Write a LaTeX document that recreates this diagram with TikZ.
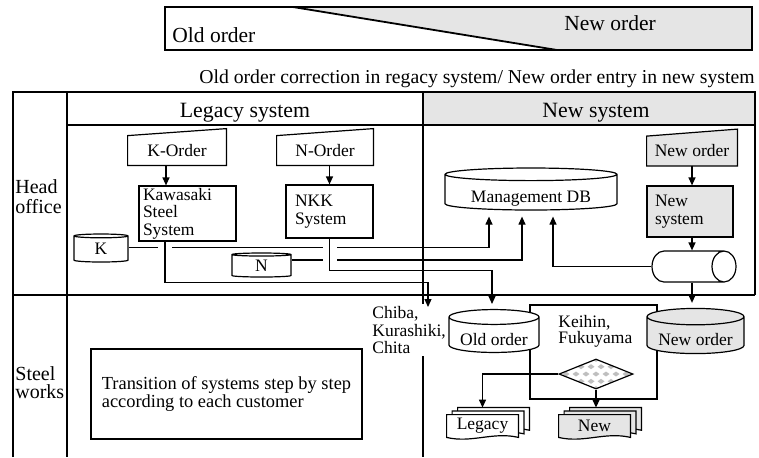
\documentclass[tikz,border=0pt]{standalone}
\usepackage{fontspec}
\setmainfont{Liberation Serif}
\usepackage{tikz}
\usetikzlibrary{shapes.geometric}
\usetikzlibrary{arrows.meta}
\usetikzlibrary{backgrounds}
\usetikzlibrary{calc}
\tikzstyle{lane}=[line width=0.9pt]
\tikzstyle{sysbox}=[draw, line width=0.6pt, inner sep=0pt]
\tikzstyle{inbox}=[inner sep=0pt, minimum height=14.5pt]
\tikzstyle{dbase}=[cylinder, shape border rotate=90, draw, line width=0.6pt, fill=white, inner sep=0pt, anchor=shape center]
\tikzstyle{link}=[line width=0.6pt]
\tikzstyle{flow}=[line width=0.6pt, -{Triangle[length=4pt,width=3.5pt]}]
\tikzstyle{hop}=[draw=white, line width=7pt]
\tikzstyle{doc}=[inner sep=0pt, minimum width=35.5pt, minimum height=11pt]

\begin{document}
\begin{tikzpicture}[x=0.5pt, y=-0.5pt, font=\fontsize{8.75}{8.8}\selectfont]
  \useasboundingbox (0,0) rectangle (759,457);
  % Banda superior
  \fill[gray!20] (293,7) -- (752,7) -- (752,50) -- (557,50) -- cycle;
  \draw[lane] (165,7) rectangle (752,50);
  \draw[lane] (293,7) -- (557,50);
  \node[anchor=base west, inner sep=0pt, font=\fontsize{10.75}{11}\selectfont] (oldtag) at (172,42) {Old order};
  \node[anchor=base west, inner sep=0pt, font=\fontsize{10.75}{11}\selectfont] (newtag) at (564,30) {New order};
  \node[anchor=base east, inner sep=0pt, font=\fontsize{9.85}{10}\selectfont] (note) at (755,83) {Old order correction in regacy system/ New order entry in new system};

  % Tabla
  \fill[gray!20] (423,92) rectangle (755,125);
  \draw[lane] (13,457) -- (13,92) -- (755,92) -- (755,295);
  \draw[lane] (67,92) -- (67,457);
  \draw[lane] (423,92) -- (423,457);
  \draw[lane] (67,125) -- (755,125);
  \draw[lane] (13,295) -- (755,295);
  \node[anchor=base, inner sep=0pt, font=\fontsize{10.9}{11}\selectfont] (legacy) at (245,117) {Legacy system};
  \node[anchor=base, inner sep=0pt, font=\fontsize{10.9}{11}\selectfont] (newsys) at (596,117) {New system};
  \node[anchor=west, align=left, inner sep=1pt, font=\fontsize{10}{10}\selectfont] (head) at (13,197) {Head\\office};
  \node[anchor=west, align=left, inner sep=1pt, font=\fontsize{10}{9}\selectfont] (works) at (13,383) {Steel\\works};

  % Oficina central
  \node[inbox, minimum width=49pt] (kord) at (177,150.5) {K-Order};
  \node[inbox, minimum width=48pt] (nord) at (325,150.5) {N-Order};
  \node[inbox, minimum width=45pt] (nwo) at (692,151) {New order};
  \node[sysbox, minimum width=48.5pt, minimum height=27.5pt, text width=44.5pt, align=left] (kws) at (187.5,213.5) {Kawasaki\\Steel\\System};
  \node[sysbox, minimum width=43.5pt, minimum height=26.5pt, text width=34.5pt, align=left] (nkk) at (329.5,211.5) {NKK\\System};
  \node[sysbox, fill=gray!20, minimum width=43pt, minimum height=25.5pt, text width=35pt, align=left] (nsys) at (690,211.5) {New\\system};
  \node[dbase, minimum width=86pt, minimum height=21pt, aspect=0.105, text height=10.5pt, text depth=0pt] (mgmt) at (531,189) {Management DB};
  \node[dbase, minimum width=27pt, minimum height=14pt, aspect=0.3, label={[fill=white, inner sep=1pt]center:K}] (kdb) at (101,248) {\phantom{K}};
  \node[dbase, minimum width=29.5pt, minimum height=12pt, aspect=0.24, label={[fill=white, inner sep=1pt]center:N}] (ndb) at (261.5,265) {\phantom{N}};
  \node[cylinder, draw, line width=0.6pt, fill=white, anchor=shape center, minimum width=15.5pt, minimum height=42pt, aspect=1.8] (tape) at (694,266.5) {};

  % Acerias
  \node[sysbox, minimum width=63.5pt, minimum height=47pt] (area) at (593.5,352) {};
  \node[anchor=west, align=left, inner sep=0pt, font=\fontsize{8.75}{8}\selectfont] (cities) at (558,331) {Keihin,\\Fukuyama};
  \node[anchor=north west, align=left, fill=white, inner sep=1pt] (chiba) at (370,304) {Chiba,\\Kurashiki,\\Chita};
  \node[dbase, minimum width=45pt, minimum height=18pt, aspect=0.22, text height=10pt, text depth=0pt] (olddb) at (494,331) {Old order};
  \node[dbase, fill=gray!20, minimum width=48.5pt, minimum height=18pt, aspect=0.22, text height=10pt, text depth=0pt] (newdb) at (695.5,331) {New order};
  \node[diamond, draw, line width=0.6pt, fill=white, inner sep=0pt, minimum width=37pt, minimum height=15pt,
        path picture={
          \foreach \j/\dx in {-2/0,-1/2.5,0/0,1/2.5,2/0}
            \foreach \i in {-4,...,4}
              \fill[gray!50] ([shift={(\i*5pt+\dx pt,\j*3.65pt)}]path picture bounding box.center)
                +(-1.75pt,0pt) -- +(0pt,1.25pt) -- +(1.75pt,0pt) -- +(0pt,-1.25pt) -- cycle;
        }] (dec) at (596,374) {};
  \node[doc] (lg) at (482.5,426) {Legacy};
  \node[doc] (nw) at (594.5,426) {New};
  \node[sysbox, minimum width=135.5pt, minimum height=45pt, align=left, font=\fontsize{9.2}{9}\selectfont] (trans) at (226.5,394) {Transition of systems step by step\\according to each customer};

  \begin{scope}[on background layer]
    % Entradas manuales
    \foreach \n/\f in {kord/white, nord/white, nwo/gray!20}
      \draw[link, fill=\f] (\n.south west) -- (\n.north west) -- ([shift={(0,-7)}]\n.north east) -- (\n.south east) -- cycle;
    % Documentos
    \foreach \n/\f in {lg/white, nw/gray!20}
      \foreach \d in {11,5.5,0}
        \draw[link, fill=\f] ([shift={(\d,-0.65*\d)}]\n.south west) -- ([shift={(\d,-0.65*\d)}]\n.north west)
          -- ([shift={(\d,-0.65*\d)}]\n.north east) -- ([shift={(\d,-0.65*\d)}]\n.south east)
          .. controls +(-25,-6) and +(25,6) .. ([shift={(\d,-0.65*\d)}]\n.south west) -- cycle;
  \end{scope}

  % Conexiones
  \draw[flow] ([xshift=-5.5pt]kord.south) -- ([xshift=-5.5pt]kord.south |- kws.north);
  \draw[flow] (nkk.north |- nord.south) -- (nkk.north);
  \draw[flow] (nwo.south) -- (nwo.south |- nsys.north);
  \draw[flow] (nwo.south |- nsys.south) -- (nwo.south |- tape.north);
  \draw[flow] ([yshift=1pt]kdb.east) -| ($(mgmt.south)+(-42,6)$);
  \draw[flow] ([yshift=3pt]ndb.east) -| ($(mgmt.south)+(-9,6)$);
  \draw[flow] (tape.west) -| ($(mgmt.south)+(22,6)$);
  \draw[flow] (nwo.south |- tape.south) -- ($(nwo.south |- newdb.north)+(0,-5)$);
  \draw[hop] ([xshift=-11.25pt]kws.south) ++(0,2) -- ++(0,10);
  \draw[hop] (nkk.south) ++(0,3) -- ++(0,24);
  \draw[flow] ([xshift=-11.25pt]kws.south) -- ++(0,41) -| ($(chiba.north west)+(58,3)$);
  \draw[flow] (nkk.south) -- ++(0,32) -| ($(olddb.north)+(-2,-5)$);
  \draw[flow] (dec.west) -| ($(lg.north)+(0,-7)$);
  \draw[flow] (dec.south) -- ($(dec.south |- nw.north)+(0,-7)$);
\end{tikzpicture}
\end{document}
